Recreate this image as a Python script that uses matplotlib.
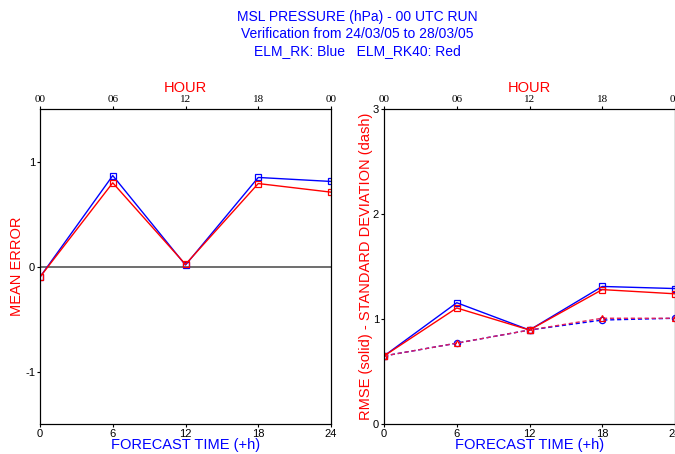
import matplotlib
matplotlib.use("Agg")
import matplotlib.pyplot as plt

hours = [0, 6, 12, 18, 24]
hour_labels = ["00", "06", "12", "18", "00"]

me_blue = [-0.10, 0.866, 0.014, 0.848, 0.81]
me_red = [-0.10, 0.797, 0.02, 0.79, 0.708]

rmse_blue = [0.648, 1.155, 0.895, 1.31, 1.29]
rmse_red = [0.648, 1.105, 0.895, 1.28, 1.24]
std_blue = [0.648, 0.77, 0.895, 0.99, 1.007]
std_red = [0.648, 0.77, 0.895, 1.007, 1.007]

plt.rcParams['font.family'] = ['Liberation Sans', 'DejaVu Sans']

fig = plt.figure(figsize=(6.75, 4.54), dpi=100)
W, H = 675, 454
AH = 315.0

def make_ax(x0):
    ax = fig.add_axes([x0 / W, 1 - 424 / H, 291 / W, AH / H])
    ax.set_xlim(0, 24)
    ax.set_xticks(hours)
    ax.set_xticklabels([str(h) for h in hours])
    ax.tick_params(axis='both', direction='out', length=2.5, width=0.8, labelsize=8, pad=1)
    ax.set_xlabel("FORECAST TIME (+h)", color='blue', fontsize=10.5)
    ax.xaxis.set_label_coords(0.5, (424 - 445) / AH)
    ax.xaxis.label.set_va('center')
    top = ax.twiny()
    top.set_xlim(0, 24)
    top.set_xticks(hours)
    top.set_xticklabels(hour_labels, fontfamily='Liberation Serif', fontsize=8)
    top.tick_params(axis='x', direction='out', length=2.5, width=0.8, pad=1)
    top.set_xlabel("HOUR", color='red', fontsize=10.5)
    top.xaxis.set_label_coords(0.5, (424 - 88) / AH)
    top.xaxis.label.set_va('center')
    return ax

def ylabels(ax, ticks):
    ax.set_yticks(ticks)
    ax.set_yticklabels([str(t) for t in ticks])

ax1 = make_ax(40)
ax1.set_ylim(-1.5, 1.5)
ylabels(ax1, [-1, 0, 1])
ax1.axhline(0, color='#555555', lw=1.2, zorder=1)
ax1.plot(hours, me_blue, color='blue', lw=1, marker='s', ms=5, mfc='none', mec='blue', mew=0.9, zorder=3)
ax1.plot(hours, me_red, color='red', lw=1, marker='s', ms=5, mfc='none', mec='red', mew=0.9, zorder=4)
ax1.set_ylabel("MEAN ERROR", color='red', fontsize=10.5)
ax1.yaxis.set_label_coords((17 - 40) / 291, 0.5)
ax1.yaxis.label.set_va('center')

ax2 = make_ax(384)
ax2.set_ylim(0, 3)
ylabels(ax2, [0, 1, 2, 3])
ax2.plot(hours, rmse_blue, color='blue', lw=1, marker='s', ms=5, mfc='none', mec='blue', mew=0.9, zorder=3)
ax2.plot(hours, rmse_red, color='red', lw=1, marker='s', ms=5, mfc='none', mec='red', mew=0.9, zorder=4)
ax2.plot(hours, std_blue, color='blue', lw=1, ls='--', dashes=(3, 2), marker='o', ms=4.5, mfc='none', mec='blue', mew=0.9, zorder=3)
ax2.plot(hours, std_red, color='#e0205a', lw=1, ls='--', dashes=(3, 2), marker='^', ms=5, mfc='none', mec='red', mew=0.9, zorder=4)
ax2.set_ylabel("RMSE (solid) - STANDARD DEVIATION (dash)", color='red', fontsize=10.5)
ax2.yaxis.set_label_coords((366 - 384) / 291, 0.5)
ax2.yaxis.label.set_va('center')

cx = 357 / W
fig.text(cx, 1 - 17 / H, "MSL PRESSURE (hPa) - 00 UTC RUN", color='blue', fontsize=10, ha='center', va='center')
fig.text(cx, 1 - 34 / H, "Verification from 24/03/05 to 28/03/05", color='blue', fontsize=10, ha='center', va='center')
fig.text(cx, 1 - 51 / H, "ELM_RK: Blue   ELM_RK40: Red", color='blue', fontsize=10, ha='center', va='center')

fig.savefig("out.png", dpi=100)
